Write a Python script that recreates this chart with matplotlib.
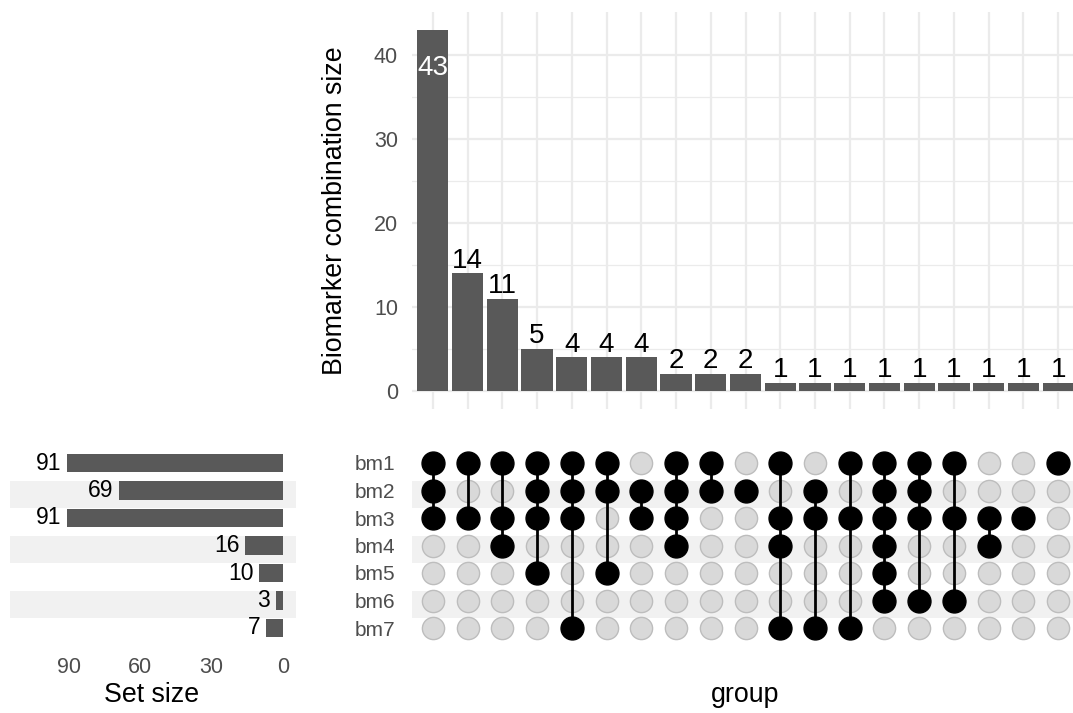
import numpy as np
import matplotlib
matplotlib.use("Agg")
import matplotlib.pyplot as plt

plt.rcParams["font.family"] = ["Liberation Sans", "DejaVu Sans"]

# ----------------- DATA -----------------
set_names = ["bm1", "bm2", "bm3", "bm4", "bm5", "bm6", "bm7"]
set_sizes = [91, 69, 91, 16, 10, 3, 7]

combo_sizes = [43, 14, 11, 5, 4, 4, 4, 2, 2, 2, 1, 1, 1, 1, 1, 1, 1, 1, 1]
combo_members = [
    ["bm1", "bm2", "bm3"],
    ["bm1", "bm3"],
    ["bm1", "bm3", "bm4"],
    ["bm1", "bm2", "bm3", "bm5"],
    ["bm1", "bm2", "bm3", "bm7"],
    ["bm1", "bm2", "bm5"],
    ["bm2", "bm3"],
    ["bm1", "bm2", "bm3", "bm4"],
    ["bm1", "bm2"],
    ["bm2"],
    ["bm1", "bm3", "bm4", "bm7"],
    ["bm2", "bm3", "bm7"],
    ["bm1", "bm3", "bm7"],
    ["bm1", "bm2", "bm3", "bm4", "bm5", "bm6"],
    ["bm1", "bm2", "bm3", "bm6"],
    ["bm1", "bm3", "bm6"],
    ["bm3", "bm4"],
    ["bm3"],
    ["bm1"],
]
size_ticks = [0, 10, 20, 30, 40]
set_ticks = [90, 60, 30, 0]
# ----------------------------------------

BAR = "#595959"
GRID = "#EBEBEB"
STRIPE = "#F1F1F1"
TICK = "#4D4D4D"
W, H = 1073, 713

fig = plt.figure(figsize=(W / 100, H / 100), dpi=100)


def px_box(x0, y0, x1, y1):
    return [x0 / W, (H - y1) / H, (x1 - x0) / W, (y1 - y0) / H]


ax_top = fig.add_axes(px_box(412, 12, 1079, 409))
ax_mat = fig.add_axes(px_box(412, 446.5, 1079, 644.5))
ax_set = fig.add_axes(px_box(10, 446.5, 296, 644.5))

n_combo = len(combo_sizes)
xs = np.arange(1, n_combo + 1)
rows = np.arange(1, len(set_names) + 1)
ymax = max(combo_sizes) * 1.05

# --- top: combination sizes ---
ax_top.bar(xs, combo_sizes, width=0.9, color=BAR, zorder=2)
for x, v in zip(xs, combo_sizes):
    if v == max(combo_sizes):
        ax_top.text(x, v - 4.5, str(v), ha="center", va="center",
                    color="white", fontsize=20, zorder=3)
    else:
        ax_top.text(x, v + 0.7, str(v), ha="center", va="baseline",
                    color="black", fontsize=20, zorder=3)
ax_top.set_xlim(0.4, n_combo + 0.6)
ax_top.set_ylim(-0.05 * max(combo_sizes), ymax)
ax_top.set_xticks(xs)
ax_top.set_xticklabels([])
ax_top.set_yticks(size_ticks)
ax_top.set_yticks([5, 15, 25, 35], minor=True)
ax_top.grid(which="major", color=GRID, lw=1.6, zorder=0)
ax_top.grid(which="minor", axis="y", color=GRID, lw=0.9, zorder=0)
ax_top.tick_params(which="both", length=0, labelsize=15.5, labelcolor=TICK, pad=10)
ax_top.set_ylabel("Biomarker combination size", fontsize=19.3, va="center")
ax_top.yaxis.set_label_coords(-0.1154, 0.5)
for s in ax_top.spines.values():
    s.set_visible(False)
ax_top.set_axisbelow(True)

# --- matrix ---
for r in rows:
    if r % 2 == 0:
        ax_mat.axhspan(r - 0.35, r + 0.65, color=STRIPE, lw=0, zorder=0)
        ax_set.axhspan(r - 0.35, r + 0.65, color=STRIPE, lw=0, zorder=0)

for x, members in zip(xs, combo_members):
    on = [set_names.index(m) + 1 for m in members]
    off = [r for r in rows if r not in on]
    ax_mat.plot([x] * len(off), off, "o", ms=16, mfc="#D9D9D9",
                mec="#BDBDBD", mew=1, zorder=2, ls="none")
    if len(on) > 1:
        ax_mat.plot([x, x], [min(on), max(on)], color="black", lw=2, zorder=3)
    ax_mat.plot([x] * len(on), on, "o", ms=16.5, color="black", zorder=4, ls="none")

ax_mat.set_xlim(0.4, n_combo + 0.6)
ax_mat.set_ylim(len(set_names) + 0.6, 0.4)
ax_mat.set_xticks([])
ax_mat.set_yticks(rows)
ax_mat.set_yticklabels(set_names)
ax_mat.tick_params(length=0, labelsize=15, labelcolor=TICK, pad=12)
ax_mat.set_xlabel("group", fontsize=19.3, va="center")
ax_mat.xaxis.set_label_coords(0.5, -0.255)
for s in ax_mat.spines.values():
    s.set_visible(False)

# --- left: set sizes ---
ax_set.barh(rows, set_sizes, height=0.68, color=BAR, zorder=2)
for r, v in zip(rows, set_sizes):
    ax_set.annotate(str(v), (v, r), xytext=(-4, 0), textcoords="offset points",
                    ha="right", va="center", fontsize=16.5, color="black")
px_per = (283 - 69) / 90
ax_set.set_xlim((283 - 10) / px_per, -(296 - 283) / px_per)
ax_set.set_ylim(len(set_names) + 0.6, 0.4)
ax_set.set_yticks([])
ax_set.set_xticks(set_ticks)
ax_set.tick_params(length=0, labelsize=15.5, labelcolor=TICK, pad=9)
ax_set.set_xlabel("Set size", fontsize=19.3, va="center")
ax_set.xaxis.set_label_coords((152 - 10) / 286, -0.255)
for s in ax_set.spines.values():
    s.set_visible(False)

fig.savefig("out.png", dpi=100)
